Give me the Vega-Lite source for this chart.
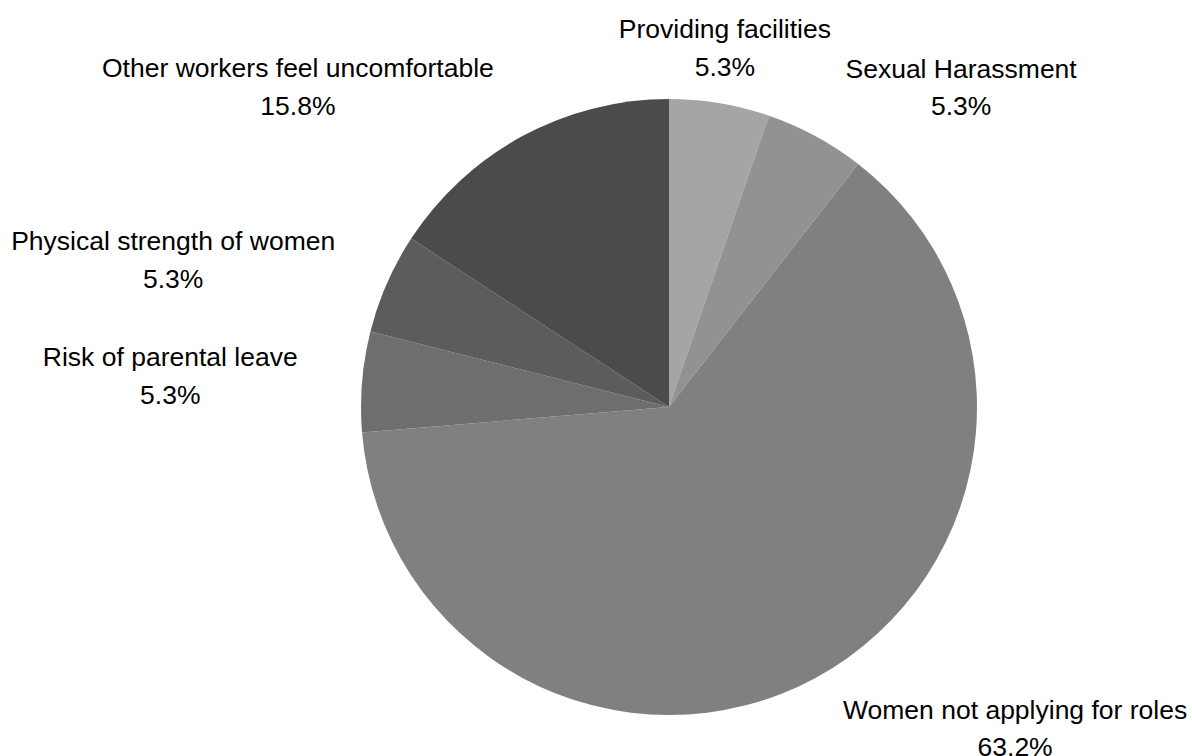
{
  "$schema": "https://vega.github.io/schema/vega-lite/v6.json",
  "autosize": {"type": "none"},
  "width": 1046,
  "height": 698,
  "padding": {"left": 146, "top": 58, "right": 0, "bottom": 0},
  "background": "white",
  "config": {
    "view": {"stroke": null},
    "text": {"font": "Liberation Sans", "fontSize": 26.5, "lineHeight": 37.5, "lineBreak": "\n", "align": "center", "baseline": "middle", "color": "#000000"}
  },
  "data": {
    "values": [
      {"idx": 1, "category": "Providing facilities", "count": 1},
      {"idx": 2, "category": "Sexual Harassment", "count": 1},
      {"idx": 3, "category": "Women not applying for roles", "count": 12},
      {"idx": 4, "category": "Risk of parental leave", "count": 1},
      {"idx": 5, "category": "Physical strength of women", "count": 1},
      {"idx": 6, "category": "Other workers feel uncomfortable", "count": 3}
    ]
  },
  "transform": [
    {"joinaggregate": [{"op": "sum", "field": "count", "as": "total"}]},
    {"calculate": "datum.category + '\\n' + format(datum.count / datum.total, '.1%')", "as": "label"}
  ],
  "encoding": {
    "theta": {"field": "count", "type": "quantitative", "stack": true},
    "order": {"field": "idx", "type": "quantitative"}
  },
  "layer": [
    {
      "mark": {"type": "arc", "outerRadius": 308},
      "encoding": {
        "color": {
          "field": "category",
          "type": "nominal",
          "legend": null,
          "scale": {
            "domain": ["Providing facilities", "Sexual Harassment", "Women not applying for roles", "Risk of parental leave", "Physical strength of women", "Other workers feel uncomfortable"],
            "range": ["#a5a5a5", "#929292", "#808080", "#6e6e6e", "#5c5c5c", "#4b4b4b"]
          }
        }
      }
    },
    {
      "mark": {"type": "text", "radius": 370, "dx": -5, "dy": -12},
      "encoding": {"text": {"condition": {"test": "datum.category == 'Providing facilities'", "field": "label"}, "value": ""}}
    },
    {
      "mark": {"type": "text", "radius": 370, "dx": 116, "dy": -12},
      "encoding": {"text": {"condition": {"test": "datum.category == 'Sexual Harassment'", "field": "label"}, "value": ""}}
    },
    {
      "mark": {"type": "text", "radius": 370, "dx": 170, "dy": -21.5},
      "encoding": {"text": {"condition": {"test": "datum.category == 'Women not applying for roles'", "field": "label"}, "value": ""}}
    },
    {
      "mark": {"type": "text", "radius": 370, "dx": -130, "dy": -18},
      "encoding": {"text": {"condition": {"test": "datum.category == 'Risk of parental leave'", "field": "label"}, "value": ""}}
    },
    {
      "mark": {"type": "text", "radius": 370, "dx": -157, "dy": -16},
      "encoding": {"text": {"condition": {"test": "datum.category == 'Physical strength of women'", "field": "label"}, "value": ""}}
    },
    {
      "mark": {"type": "text", "radius": 370, "dx": -195, "dy": -12.5},
      "encoding": {"text": {"condition": {"test": "datum.category == 'Other workers feel uncomfortable'", "field": "label"}, "value": ""}}
    }
  ]
}
